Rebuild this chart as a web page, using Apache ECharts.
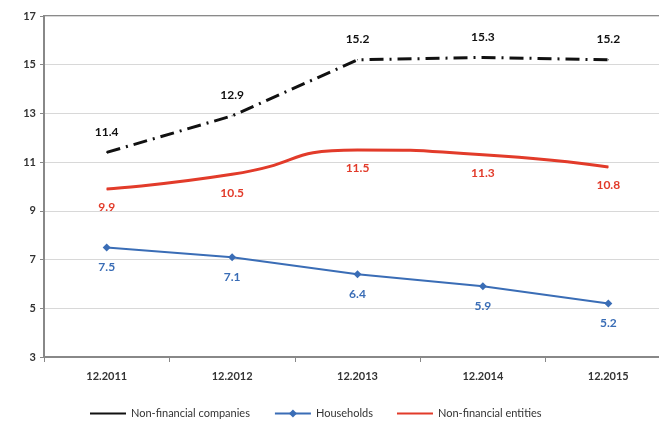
<!DOCTYPE html>
<html><head><meta charset="utf-8">
<script src="https://cdn.jsdelivr.net/npm/echarts@6/dist/echarts.min.js"></script>
<style>html,body{margin:0;padding:0;background:#fff}#c{width:659px;height:430px}</style>
</head><body><div id="c"></div>
<script>
const categories = ['12.2011','12.2012','12.2013','12.2014','12.2015'];
const nonFinCompanies = [11.4, 12.9, 15.2, 15.3, 15.2];
const households = [7.5, 7.1, 6.4, 5.9, 5.2];
const nonFinEntities = [9.9, 10.5, 11.5, 11.3, 10.8];
const yTicks = [3, 5, 7, 9, 11, 13, 15, 17];

const font = 'Lato, "Open Sans", sans-serif';
const chart = echarts.init(document.getElementById('c'));
chart.setOption({
  animation: false,
  textStyle: {fontFamily: font},
  grid: {left: 44, width: 627, top: 16, bottom: 73, show: true, borderColor: '#8a8a8a', borderWidth: 2,
         outerBoundsMode: 'none', containLabel: false},
  legend: {
    bottom: 6, left: 85, itemGap: 24, itemWidth: 36, itemHeight: 10,
    textStyle: {fontSize: 11, color: '#333', fontFamily: font},
    data: [
      {name: 'Non-financial companies', icon: 'path://M0,4H40V6H0Z'},
      {name: 'Households'},
      {name: 'Non-financial entities', icon: 'path://M0,4H40V6H0Z'}
    ]
  },
  xAxis: {
    type: 'category', data: categories, boundaryGap: true,
    axisLine: {lineStyle: {color: '#888', width: 2}},
    axisTick: {show: true, length: 5, lineStyle: {color: '#888'}},
    axisLabel: {fontSize: 11, color: '#333', fontWeight: 'bold', margin: 14}
  },
  yAxis: {
    type: 'value', min: yTicks[0], max: yTicks[yTicks.length-1], interval: 2,
    axisLine: {show: true, lineStyle: {color: '#888', width: 2}},
    axisTick: {show: true, length: 4, lineStyle: {color: '#888'}},
    axisLabel: {fontSize: 11, color: '#333', fontWeight: 'bold', margin: 8},
    splitLine: {lineStyle: {color: '#d8d8d8', width: 1}}
  },
  series: [
    {
      name: 'Non-financial companies', type: 'line', data: nonFinCompanies,
      symbol: 'circle', symbolSize: 1, showSymbol: true, itemStyle: {color: '#111'},
      lineStyle: {color: '#111', width: 3, type: [14, 6, 2, 6]},
      label: {show: true, position: 'top', distance: 14, color: '#111', fontWeight: 'bold', fontSize: 12}
    },
    {
      name: 'Households', type: 'line', data: households,
      symbol: 'diamond', symbolSize: 8, itemStyle: {color: '#3a6db6'},
      lineStyle: {color: '#3a6db6', width: 2},
      label: {show: true, position: 'bottom', distance: 10, color: '#3a6db6', fontWeight: 'bold', fontSize: 12}
    },
    {
      name: 'Non-financial entities', type: 'line', data: nonFinEntities, smooth: 0.6,
      symbol: 'circle', symbolSize: 1, showSymbol: true, itemStyle: {color: '#e23b2a'},
      lineStyle: {color: '#e23b2a', width: 3},
      label: {show: true, position: 'bottom', distance: 12, color: '#e23b2a', fontWeight: 'bold', fontSize: 12}
    }
  ]
});
</script></body></html>
